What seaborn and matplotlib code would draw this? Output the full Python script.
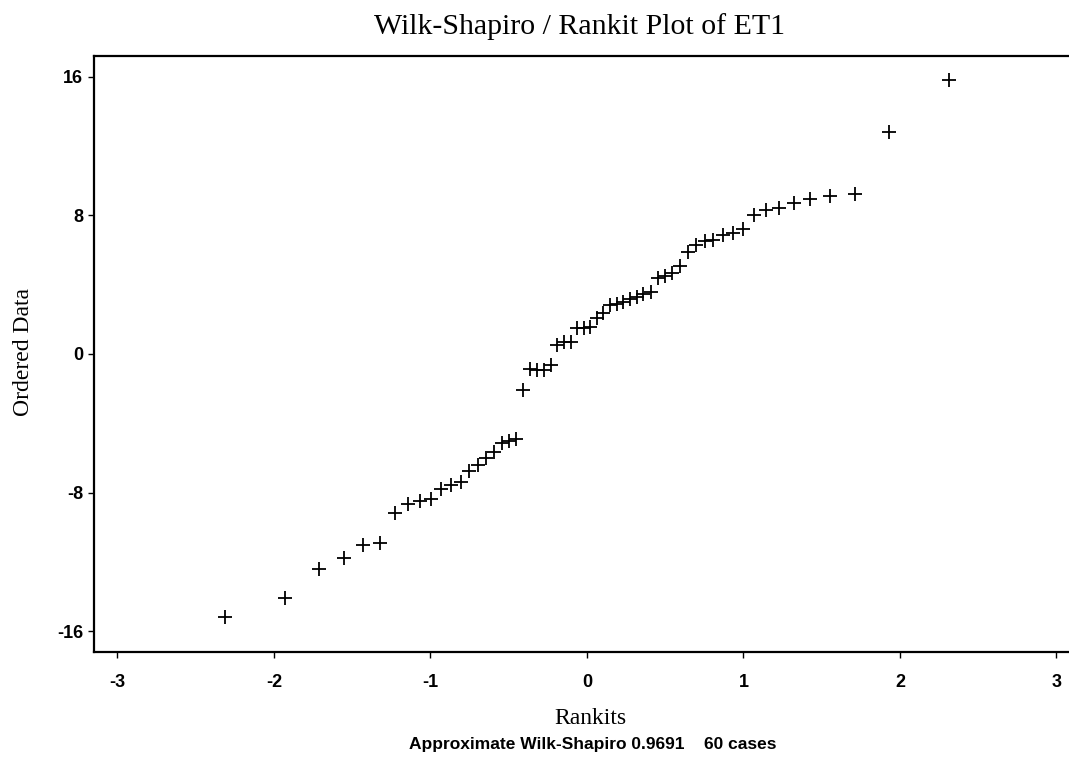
import matplotlib
matplotlib.use("Agg")
import matplotlib.pyplot as plt
import seaborn as sns
import pandas as pd

# Rankits (expected normal order statistics, n = 60)
rankits = [-2.313, -1.927, -1.711, -1.554, -1.428, -1.320, -1.227, -1.142, -1.066, -0.995,
           -0.930, -0.867, -0.808, -0.752, -0.698, -0.645, -0.595, -0.546, -0.498, -0.452,
           -0.406, -0.361, -0.318, -0.274, -0.231, -0.189, -0.146, -0.104, -0.062, -0.021,
           0.021, 0.062, 0.104, 0.146, 0.189, 0.231, 0.274, 0.318, 0.361, 0.406,
           0.452, 0.498, 0.546, 0.595, 0.645, 0.698, 0.752, 0.808, 0.867, 0.930,
           0.995, 1.066, 1.142, 1.227, 1.320, 1.428, 1.554, 1.711, 1.927, 2.313]

# Ordered data (ET1)
ordered = [-15.2, -14.1, -12.4, -11.8, -11.0, -10.9, -9.2, -8.65, -8.5, -8.35,
           -7.8, -7.55, -7.4, -6.75, -6.4, -6.0, -5.65, -5.15, -5.0, -4.9,
           -2.05, -0.85, -0.9, -0.9, -0.65, 0.5, 0.7, 0.7, 1.5, 1.5,
           1.55, 2.1, 2.35, 2.8, 2.9, 3.0, 3.2, 3.3, 3.45, 3.6,
           4.4, 4.5, 4.7, 5.1, 5.9, 6.3, 6.5, 6.6, 6.85, 7.0,
           7.2, 8.0, 8.3, 8.45, 8.7, 8.95, 9.1, 9.25, 12.8, 15.8]

x_ticks = [-3, -2, -1, 0, 1, 2, 3]
y_ticks = [-16, -8, 0, 8, 16]

title = "Wilk-Shapiro / Rankit Plot of ET1"
x_label = "Rankits"
y_label = "Ordered Data"
caption = "Approximate Wilk-Shapiro 0.9691    60 cases"

df = pd.DataFrame({"Rankits": rankits, "Ordered": ordered})

sns.set_style("ticks")
plt.rcParams["font.family"] = ["Liberation Sans", "DejaVu Sans"]
plt.rcParams["text.color"] = "black"
plt.rcParams["xtick.color"] = "black"
plt.rcParams["ytick.color"] = "black"

W, H = 1069, 763
fig = plt.figure(figsize=(W / 100, H / 100), dpi=100)
ax = fig.add_axes([94 / W, 1 - 652 / H, 1 - 94 / W, (652 - 56) / H])

sns.scatterplot(data=df, x="Rankits", y="Ordered", marker="+", s=90,
                color="black", linewidth=1.3, ax=ax, legend=False)

ax.set_xlim(-3.15, 3.08)
ax.set_ylim(-17.2, 17.2)
ax.set_xticks(x_ticks)
ax.set_yticks(y_ticks)
ax.set_xticklabels([str(t) for t in x_ticks], fontsize=13, fontweight="bold", color="black")
ax.set_yticklabels([str(t) for t in y_ticks], fontsize=13, fontweight="bold", color="black")
ax.tick_params(axis="x", direction="out", length=4, width=1, color="black", pad=12)
ax.tick_params(axis="y", direction="out", length=4, width=1, color="black", pad=4)
ax.set_xlabel("")
ax.set_ylabel("")

for side in ["left", "bottom", "top"]:
    ax.spines[side].set_linewidth(1.6)
    ax.spines[side].set_color("black")
ax.spines["right"].set_visible(False)

fig.text(580 / W, 1 - 27 / H, title, ha="center", va="center",
         family="Liberation Serif", fontsize=21.5, color="black")
fig.text(590 / W, 1 - 718 / H, x_label, ha="center", va="center",
         family="Liberation Serif", fontsize=17, color="black")
fig.text(593 / W, 1 - 745 / H, caption, ha="center", va="center",
         fontsize=12.5, fontweight="bold", color="black")
fig.text(24 / W, 1 - 352 / H, y_label, ha="center", va="center", rotation=90,
         family="Liberation Serif", fontsize=17, color="black")

fig.savefig("out.png", dpi=100, facecolor="white")
